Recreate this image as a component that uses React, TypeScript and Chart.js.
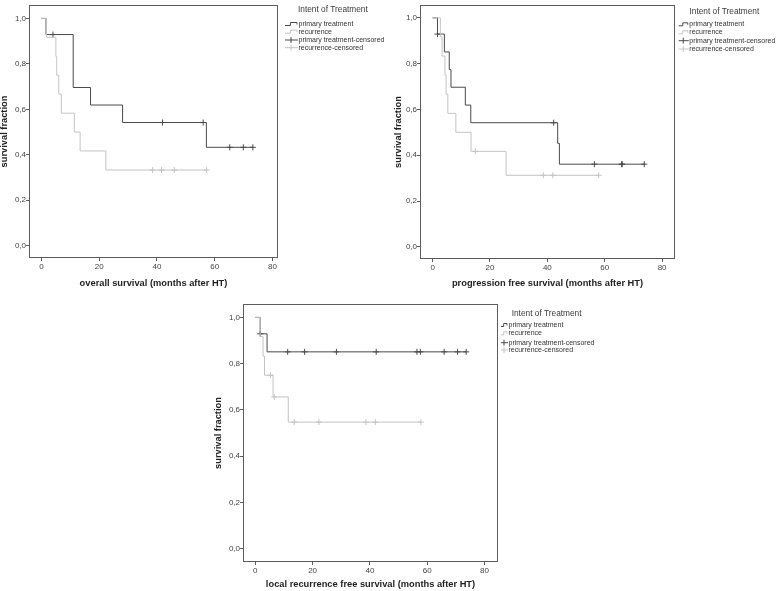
import React, { useEffect, useRef } from "react";
import { Chart, registerables } from "chart.js";

Chart.register(...registerables);

// ---------- shared labels ----------
const legendTitle = "Intent of Treatment";
const legendLabels = ["primary treatment", "recurrence", "primary treatment-censored", "recurrence-censored"];
const yAxisTitle = "survival fraction";
const yTickValues = [0, 0.2, 0.4, 0.6, 0.8, 1.0];
const xTickValues = [0, 20, 40, 60, 80];

// ---------- panel 1: overall survival ----------
const osTitle = "overall survival (months after HT)";
const osPrimaryTime = [0, 1.6, 11.0, 17.0, 28.1, 57.1, 73.2];
const osPrimarySurv = [1, 0.929, 0.696, 0.619, 0.542, 0.433, 0.433];
const osPrimaryCensTime = [4.0, 41.9, 56.0, 65.2, 69.9, 73.2];
const osPrimaryCensSurv = [0.929, 0.542, 0.542, 0.433, 0.433, 0.433];
const osRecTime = [0, 1.7, 5.0, 5.3, 6.0, 6.9, 11.4, 13.4, 22.3, 57.2];
const osRecSurv = [1, 0.917, 0.833, 0.75, 0.667, 0.583, 0.5, 0.417, 0.333, 0.333];
const osRecCensTime = [38.5, 41.6, 46.0, 57.2];
const osRecCensSurv = [0.333, 0.333, 0.333, 0.333];

// ---------- panel 2: progression free survival ----------
const pfsTitle = "progression free survival (months after HT)";
const pfsPrimaryTime = [0, 1.7, 4.1, 5.8, 6.4, 11.4, 13.3, 43.6, 44.2, 73.8];
const pfsPrimarySurv = [1, 0.929, 0.851, 0.774, 0.697, 0.619, 0.542, 0.452, 0.361, 0.361];
const pfsPrimaryCensTime = [1.7, 42.2, 56.4, 65.9, 66.1, 73.8];
const pfsPrimaryCensSurv = [0.929, 0.542, 0.361, 0.361, 0.361, 0.361];
const pfsRecTime = [0, 2.7, 3.3, 4.3, 4.7, 5.3, 8.1, 13.4, 25.6, 57.9];
const pfsRecSurv = [1, 0.917, 0.833, 0.75, 0.667, 0.583, 0.5, 0.417, 0.3125, 0.3125];
const pfsRecCensTime = [14.9, 38.6, 41.9, 57.9];
const pfsRecCensSurv = [0.417, 0.3125, 0.3125, 0.3125];

// ---------- panel 3: local recurrence free survival ----------
const lrfsTitle = "local recurrence free survival (months after HT)";
const lrfsPrimaryTime = [0, 1.7, 4.1, 73.6];
const lrfsPrimarySurv = [1, 0.929, 0.851, 0.851];
const lrfsPrimaryCensTime = [1.7, 11.3, 17.2, 28.3, 42.2, 56.4, 57.6, 65.9, 70.6, 73.6];
const lrfsPrimaryCensSurv = [0.929, 0.851, 0.851, 0.851, 0.851, 0.851, 0.851, 0.851, 0.851, 0.851];
const lrfsRecTime = [0, 1.7, 2.7, 3.2, 6.2, 11.5, 57.8];
const lrfsRecSurv = [1, 0.917, 0.833, 0.75, 0.656, 0.547, 0.547];
const lrfsRecCensTime = [5.3, 6.6, 13.6, 22.2, 38.6, 41.9, 57.8];
const lrfsRecCensSurv = [0.75, 0.656, 0.547, 0.547, 0.547, 0.547, 0.547];

// ---------- styling ----------
const DARK = "#4a4a4a";
const LIGHT = "#c4c4c4";
const BOX = "#5c5c5c";
const TICK_TEXT = "#444444";
const FONT = "'Liberation Sans', Arial, sans-serif";

type PanelCfg = {
  left: number; top: number; width: number; height: number;
  yW: number; xH: number; padTop: number; padRight: number;
  xMin: number; xMax: number; yMin: number; yMax: number;
  xTitle: string; xTitlePad: number; yTitlePad: number;
  legend: { symX: number; textX: number; titleX: number; titleY: number; itemY: number[] };
  primary: [number[], number[], number[], number[]];
  rec: [number[], number[], number[], number[]];
};

const pts = (xs: number[], ys: number[]) => xs.map((x, i) => ({ x, y: ys[i] }));

function buildConfig(p: PanelCfg): any {
  const boxPlugin = {
    id: "kmBox",
    afterDatasetsDraw(chart: any) {
      const { left, top, right, bottom } = chart.chartArea;
      const ctx = chart.ctx;
      ctx.save();
      ctx.strokeStyle = BOX;
      ctx.lineWidth = 1;
      const x0 = Math.round(left) + 0.5;
      const y0 = Math.round(top) + 0.5;
      const x1 = Math.round(right) - 0.5;
      const y1 = Math.round(bottom) - 0.5;
      ctx.strokeRect(x0, y0, x1 - x0, y1 - y0);
      ctx.restore();
    },
  };
  const legendPlugin = {
    id: "kmLegend",
    afterDraw(chart: any) {
      const ctx = chart.ctx;
      const L = p.legend;
      ctx.save();
      ctx.textBaseline = "middle";
      ctx.textAlign = "left";
      ctx.fillStyle = "#3a3a3a";
      ctx.font = `8.3px ${FONT}`;
      ctx.fillText(legendTitle, L.titleX, L.titleY);
      ctx.font = `7px ${FONT}`;
      const w = L.textX - L.symX - 1.5;
      legendLabels.forEach((label, i) => {
        const y = L.itemY[i];
        const color = i % 2 === 0 ? DARK : LIGHT;
        ctx.strokeStyle = color;
        ctx.lineWidth = 1;
        ctx.beginPath();
        if (i < 2) {
          const mid = L.symX + w * 0.45;
          ctx.moveTo(L.symX, y + 1.5);
          ctx.lineTo(mid, y + 1.5);
          ctx.lineTo(mid, y - 1.5);
          ctx.lineTo(L.symX + w, y - 1.5);
          ctx.lineTo(L.symX + w, y + 0.5);
        } else {
          ctx.moveTo(L.symX, y);
          ctx.lineTo(L.symX + w + 1, y);
          const cx = L.symX + w * 0.5;
          ctx.moveTo(cx, y - 3);
          ctx.lineTo(cx, y + 3);
        }
        ctx.stroke();
        ctx.fillStyle = "#333333";
        ctx.fillText(label, L.textX, y);
      });
      ctx.restore();
    },
  };

  const tickFont = { family: FONT, size: 8 };
  const titleFont = { family: FONT, size: 9.3, weight: "bold" as const, lineHeight: 1 };

  return {
    type: "scatter",
    data: {
      datasets: [
        {
          data: pts(p.rec[0], p.rec[1]), showLine: true, stepped: true,
          borderColor: LIGHT, borderWidth: 1, pointRadius: 0, order: 0,
        },
        {
          data: pts(p.rec[2], p.rec[3]), showLine: false, pointStyle: "cross",
          pointRadius: 3, pointBorderWidth: 1, borderColor: LIGHT, backgroundColor: LIGHT, order: 0,
        },
        {
          data: pts(p.primary[0], p.primary[1]), showLine: true, stepped: true,
          borderColor: DARK, borderWidth: 1, pointRadius: 0, order: 1,
        },
        {
          data: pts(p.primary[2], p.primary[3]), showLine: false, pointStyle: "cross",
          pointRadius: 3, pointBorderWidth: 1, borderColor: DARK, backgroundColor: DARK, order: 1,
        },
      ],
    },
    options: {
      animation: false,
      responsive: false,
      maintainAspectRatio: false,
      devicePixelRatio: 1,
      layout: { padding: { left: 0, top: p.padTop, right: p.padRight, bottom: 0 } },
      plugins: { legend: { display: false }, tooltip: { enabled: false } },
      scales: {
        x: {
          type: "linear",
          min: p.xMin,
          max: p.xMax,
          afterBuildTicks: (s: any) => { s.ticks = xTickValues.map((v) => ({ value: v })); },
          afterFit: (s: any) => { s.height = p.xH; s.paddingLeft = 0; s.paddingRight = 0; },
          grid: { display: true, drawOnChartArea: false, drawTicks: true, tickLength: 3, color: BOX, lineWidth: 1 },
          border: { display: false },
          ticks: {
            font: tickFont, color: TICK_TEXT, padding: 1, maxRotation: 0, autoSkip: false,
            callback: (v: any) => String(v),
          },
          title: {
            display: true, text: p.xTitle, font: titleFont, color: "#222222",
            padding: { top: 0, bottom: p.xTitlePad },
          },
        },
        y: {
          type: "linear",
          min: p.yMin,
          max: p.yMax,
          afterBuildTicks: (s: any) => { s.ticks = yTickValues.map((v) => ({ value: v })); },
          afterFit: (s: any) => { s.width = p.yW; s.paddingTop = 0; s.paddingBottom = 0; },
          grid: { display: true, drawOnChartArea: false, drawTicks: true, tickLength: 3, color: BOX, lineWidth: 1 },
          border: { display: false },
          ticks: {
            font: tickFont, color: TICK_TEXT, padding: 0, autoSkip: false,
            callback: (v: any) => Number(v).toFixed(1).replace(".", ","),
          },
          title: {
            display: true, text: yAxisTitle, font: titleFont, color: "#222222",
            padding: { top: p.yTitlePad, bottom: 0 },
          },
        },
      },
    },
    plugins: [boxPlugin, legendPlugin],
  };
}

const panels: PanelCfg[] = [
  {
    left: 0, top: 0, width: 390, height: 290,
    yW: 29, xH: 32, padTop: 1, padRight: 112,
    xMin: -4.3, xMax: 81.9, yMin: -0.054, yMax: 1.059,
    xTitle: osTitle, xTitlePad: 2.3, yTitlePad: 0,
    legend: { symX: 285, textX: 298.5, titleX: 298, titleY: 10, itemY: [24, 31.7, 40, 47.7] },
    primary: [osPrimaryTime, osPrimarySurv, osPrimaryCensTime, osPrimaryCensSurv],
    rec: [osRecTime, osRecSurv, osRecCensTime, osRecCensSurv],
  },
  {
    left: 388, top: 0, width: 390, height: 290,
    yW: 32, xH: 31, padTop: 3, padRight: 103,
    xMin: -4.4, xMax: 84.5, yMin: -0.053, yMax: 1.056,
    xTitle: pfsTitle, xTitlePad: 2, yTitlePad: 5.6,
    legend: { symX: 290.7, textX: 301.3, titleX: 301.5, titleY: 11.7, itemY: [24.3, 32.3, 40.7, 49] },
    primary: [pfsPrimaryTime, pfsPrimarySurv, pfsPrimaryCensTime, pfsPrimaryCensSurv],
    rec: [pfsRecTime, pfsRecSurv, pfsRecCensTime, pfsRecCensSurv],
  },
  {
    left: 212, top: 290, width: 400, height: 301,
    yW: 31, xH: 29, padTop: 14, padRight: 114,
    xMin: -4.3, xMax: 84.7, yMin: -0.058, yMax: 1.058,
    xTitle: lrfsTitle, xTitlePad: 2, yTitlePad: 2.1,
    legend: { symX: 289, textX: 296.5, titleX: 299.7, titleY: 24, itemY: [35, 43.3, 52.7, 60] },
    primary: [lrfsPrimaryTime, lrfsPrimarySurv, lrfsPrimaryCensTime, lrfsPrimaryCensSurv],
    rec: [lrfsRecTime, lrfsRecSurv, lrfsRecCensTime, lrfsRecCensSurv],
  },
];

function KMPanel({ cfg }: { cfg: PanelCfg }) {
  const ref = useRef<HTMLCanvasElement | null>(null);
  useEffect(() => {
    if (!ref.current) return;
    const chart = new Chart(ref.current, buildConfig(cfg));
    return () => chart.destroy();
  }, [cfg]);
  return (
    <canvas
      ref={ref}
      width={cfg.width}
      height={cfg.height}
      style={{ position: "absolute", left: cfg.left, top: cfg.top, width: cfg.width, height: cfg.height }}
    />
  );
}

export default function App() {
  return (
    <div style={{ position: "absolute", left: 0, top: 0, width: 778, height: 591, background: "#ffffff", overflow: "hidden" }}>
      {panels.map((p, i) => (
        <KMPanel key={i} cfg={p} />
      ))}
    </div>
  );
}
